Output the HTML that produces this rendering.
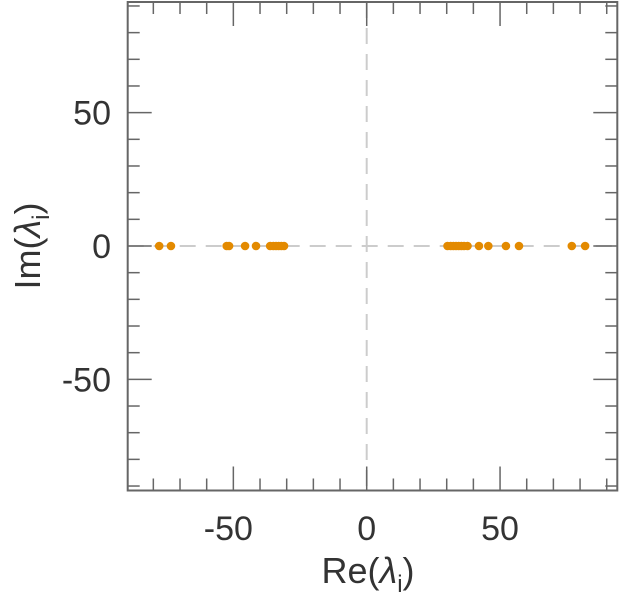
<!DOCTYPE html>
<html><head><meta charset="utf-8"><style>
html,body{margin:0;padding:0;background:#fff;}
svg{display:block;font-family:"Liberation Sans",sans-serif;}
</style></head><body>
<svg id="chart" width="619" height="600">
<g id="grid"></g>
<g id="ticks"></g>
<g id="points"></g>
<rect x="127.7" y="2" width="489.6" height="488.5" fill="none" stroke="#666" stroke-width="2"/>
<g id="labels"></g>
<text x="368" y="583" font-size="36" text-anchor="middle" fill="#333">Re(<tspan font-style="italic">λ</tspan><tspan font-size="24" dy="9">i</tspan><tspan dy="-9">)</tspan></text>
<text transform="translate(40,246) rotate(-90)" font-size="36" text-anchor="middle" fill="#333">Im(<tspan font-style="italic">λ</tspan><tspan font-size="24" dy="9">i</tspan><tspan dy="-9">)</tspan></text>
</svg>
<script>
const reValues = [-77.8,-73.4,-52.5,-51.6,-45.6,-41.5,-36.2,-35,-34,-33,-32,-31,30.3,31.5,32.5,33.5,34.5,35.5,36.5,37.8,42.1,45.6,52.2,57.1,76.9,81.9];
const imValues = [0,0,0,0,0,0,0,0,0,0,0,0,0,0,0,0,0,0,0,0,0,0,0,0,0,0];
const xTickLabels = [-50,0,50];
const yTickLabels = [50,0,-50];
const X0=366.7, Y0=246, S=2.667;
const sx=v=>X0+v*S, sy=v=>Y0-v*S;
const NS="http://www.w3.org/2000/svg";
function mk(t,a,p){const e=document.createElementNS(NS,t);for(const k in a)e.setAttribute(k,a[k]);p.appendChild(e);return e;}
const L=127.7,R=617.3,T=2,B=490.5;
const grid=document.getElementById('grid');
const hz=mk('line',{x1:L,x2:R,y1:sy(0),y2:sy(0),stroke:'#ccc','stroke-width':2,'stroke-dasharray':'16,10'},grid);


const vz=mk('line',{x1:sx(0),x2:sx(0),y1:T,y2:B,stroke:'#ccc','stroke-width':2,'stroke-dasharray':'16,10'},grid);


const tk=document.getElementById('ticks');
for(let v=-80;v<=90;v+=10){const x=sx(v),len=(v%50===0)?24:12;
 const a=mk('line',{x1:x,x2:x,y1:B,y2:B-len,stroke:'#666','stroke-width':1.5},tk);
 
 
 const b=mk('line',{x1:x,x2:x,y1:T,y2:T+len,stroke:'#666','stroke-width':1.5},tk);
 
 }
for(let v=-90;v<=90;v+=10){const y=sy(v),len=(v%50===0)?24:12;
 const a=mk('line',{x1:L,x2:L+len,y1:y,y2:y,stroke:'#666','stroke-width':1.5},tk);
 
 
 const b=mk('line',{x1:R,x2:R-len,y1:y,y2:y,stroke:'#666','stroke-width':1.5},tk);
 
 }
const lb=document.getElementById('labels');
xTickLabels.forEach(v=>{const t=mk('text',{x:sx(v)-(v<0?5:0),y:540,'font-size':34,'text-anchor':'middle',fill:'#333'},lb);t.textContent=String(v);
 
 });
yTickLabels.forEach(v=>{const t=mk('text',{x:111,y:sy(v)+12,'font-size':34,'text-anchor':'end',fill:'#333'},lb);t.textContent=String(v);
 
 });
const pts=document.getElementById('points');
reValues.forEach((v,i)=>{const c=mk('circle',{cx:sx(v),cy:sy(imValues[i]),r:4.3,fill:'#e38a00'},pts);
 
 });
</script>
</body></html>
